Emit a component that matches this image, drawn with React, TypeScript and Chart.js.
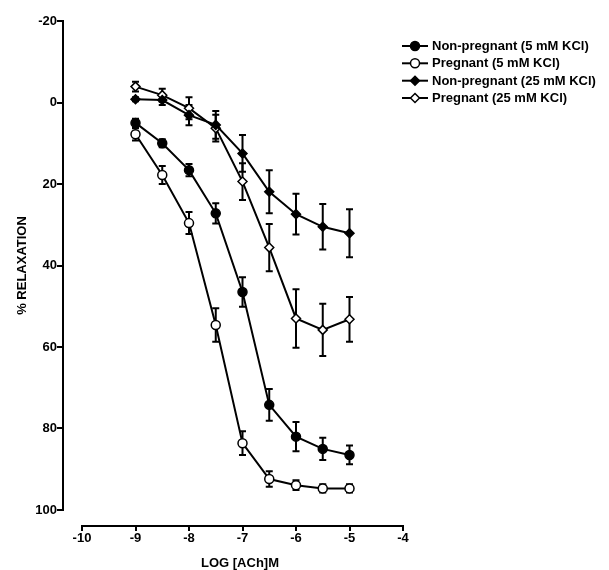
import React, { useEffect, useRef } from "react";
import { Chart, registerables } from "chart.js";

Chart.register(...registerables);

const logAch = [-9, -8.5, -8, -7.5, -7, -6.5, -6, -5.5, -5];
const npKcl5 = [5.0, 10.0, 16.6, 27.2, 46.5, 74.2, 82.0, 85.0, 86.5];
const npKcl5Err = [1.0, 1.0, 1.5, 2.5, 3.6, 3.9, 3.6, 2.7, 2.3];
const pKcl5 = [7.8, 17.8, 29.6, 54.6, 83.6, 92.4, 93.9, 94.7, 94.7];
const pKcl5Err = [1.5, 2.2, 2.7, 4.1, 2.9, 1.9, 1.2, 1.0, 1.0];
const npKcl25 = [-0.8, -0.6, 3.1, 5.5, 12.5, 21.9, 27.4, 30.5, 32.1];
const npKcl25Err = [0.5, 1.2, 2.5, 3.4, 4.5, 5.3, 5.0, 5.6, 5.9];
const pKcl25 = [-3.9, -1.8, 1.4, 6.3, 19.4, 35.6, 53.0, 55.8, 53.2];
const pKcl25Err = [1.2, 1.6, 2.7, 3.3, 4.5, 5.8, 7.2, 6.4, 5.5];

const seriesLabels = [
  "Non-pregnant (5 mM KCl)",
  "Pregnant (5 mM KCl)",
  "Non-pregnant (25 mM KCl)",
  "Pregnant (25 mM KCl)",
];
const xTicks = [-10, -9, -8, -7, -6, -5, -4];
const yTicks = [-20, 0, 20, 40, 60, 80, 100];
const xTitle = "LOG [ACh]M";
const yTitle = "% RELAXATION";

const FONT = "'Liberation Sans', Arial, Helvetica, sans-serif";

function drawMarker(ctx: CanvasRenderingContext2D, style: string, filled: boolean, x: number, y: number, r: number) {
  ctx.beginPath();
  if (style === "circle") {
    ctx.arc(x, y, r, 0, Math.PI * 2);
  } else {
    ctx.moveTo(x, y - r);
    ctx.lineTo(x + r, y);
    ctx.lineTo(x, y + r);
    ctx.lineTo(x - r, y);
    ctx.closePath();
  }
  ctx.fillStyle = filled ? "#000" : "#fff";
  ctx.fill();
  ctx.lineWidth = 1.5;
  ctx.strokeStyle = "#000";
  ctx.stroke();
}

const errorBarsPlugin = {
  id: "errorBars",
  beforeDatasetsDraw(chart: any) {
    const ctx = chart.ctx as CanvasRenderingContext2D;
    const xs = chart.scales.x;
    const ys = chart.scales.y;
    ctx.save();
    ctx.strokeStyle = "#000";
    ctx.lineWidth = 2;
    chart.data.datasets.forEach((ds: any) => {
      ds.data.forEach((p: any, i: number) => {
        const e = ds.errors[i];
        const x = xs.getPixelForValue(p.x);
        const y1 = ys.getPixelForValue(p.y - e);
        const y2 = ys.getPixelForValue(p.y + e);
        ctx.beginPath();
        ctx.moveTo(x, y1);
        ctx.lineTo(x, y2);
        ctx.moveTo(x - 3.5, y1);
        ctx.lineTo(x + 3.5, y1);
        ctx.moveTo(x - 3.5, y2);
        ctx.lineTo(x + 3.5, y2);
        ctx.stroke();
      });
    });
    ctx.restore();
  },
};

const axesPlugin = {
  id: "customAxes",
  afterDraw(chart: any) {
    const ctx = chart.ctx as CanvasRenderingContext2D;
    const xs = chart.scales.x;
    const ys = chart.scales.y;
    const ca = chart.chartArea;
    ctx.save();
    ctx.strokeStyle = "#000";
    ctx.lineWidth = 2;
    // y axis
    ctx.beginPath();
    ctx.moveTo(ca.left, ys.getPixelForValue(yTicks[0]) - 1);
    ctx.lineTo(ca.left, ys.getPixelForValue(yTicks[yTicks.length - 1]) + 1);
    ctx.stroke();
    // x axis
    ctx.beginPath();
    ctx.moveTo(xs.getPixelForValue(xTicks[0]) - 1, ca.bottom);
    ctx.lineTo(xs.getPixelForValue(xTicks[xTicks.length - 1]) + 1, ca.bottom);
    ctx.stroke();

    // titles
    ctx.fillStyle = "#000";
    ctx.font = `bold 13px ${FONT}`;
    ctx.textAlign = "center";
    ctx.textBaseline = "middle";
    ctx.fillText(xTitle, 240, 563);
    ctx.save();
    ctx.translate(22, (ys.getPixelForValue(yTicks[0]) + ys.getPixelForValue(yTicks[yTicks.length - 1])) / 2);
    ctx.rotate(-Math.PI / 2);
    ctx.fillText(yTitle, 0, 0);
    ctx.restore();

    // legend
    const rows = [46, 63.3, 80.7, 98];
    chart.data.datasets.forEach((ds: any, i: number) => {
      const y = rows[i];
      ctx.beginPath();
      ctx.lineWidth = 2;
      ctx.strokeStyle = "#000";
      ctx.moveTo(402, y);
      ctx.lineTo(428, y);
      ctx.stroke();
      drawMarker(ctx, ds.pointStyle, ds.pointBackgroundColor === "#000", 415, y, ds.pointStyle === "circle" ? 4.5 : 4.5);
      ctx.fillStyle = "#000";
      ctx.font = `bold 13px ${FONT}`;
      ctx.textAlign = "left";
      ctx.textBaseline = "middle";
      ctx.fillText(ds.label, 432, y + 0.5);
    });
    ctx.restore();
  },
};

function makeData(vals: number[]) {
  return logAch.map((x, i) => ({ x, y: vals[i] }));
}

export default function App() {
  const ref = useRef<HTMLCanvasElement | null>(null);

  useEffect(() => {
    if (!ref.current) return;
    const base = {
      borderColor: "#000",
      borderWidth: 2,
      pointBorderColor: "#000",
      pointBorderWidth: 1.5,
      tension: 0,
      clip: false as any,
    };
    const chart = new Chart(ref.current, {
      type: "line",
      data: {
        datasets: [
          { ...base, label: seriesLabels[0], data: makeData(npKcl5), errors: npKcl5Err, pointStyle: "circle", pointRadius: 4.5, pointBackgroundColor: "#000" } as any,
          { ...base, label: seriesLabels[1], data: makeData(pKcl5), errors: pKcl5Err, pointStyle: "circle", pointRadius: 4.5, pointBackgroundColor: "#fff" } as any,
          { ...base, label: seriesLabels[2], data: makeData(npKcl25), errors: npKcl25Err, pointStyle: "rectRot", pointRadius: 4.5, pointBackgroundColor: "#000" } as any,
          { ...base, label: seriesLabels[3], data: makeData(pKcl25), errors: pKcl25Err, pointStyle: "rectRot", pointRadius: 4.5, pointBackgroundColor: "#fff" } as any,
        ],
      },
      options: {
        animation: false,
        responsive: false,
        maintainAspectRatio: false,
        layout: { padding: { left: 0, top: 21, right: 206, bottom: 0 } },
        plugins: { legend: { display: false }, tooltip: { enabled: false }, title: { display: false } },
        scales: {
          x: {
            type: "linear",
            min: -10 - 19 / 53.5,
            max: -4,
            afterBuildTicks: (s: any) => {
              s.ticks = xTicks.map((v) => ({ value: v }));
            },
            afterFit: (s: any) => {
              s.height = 44;
            },
            grid: { display: true, drawOnChartArea: false, drawTicks: true, tickLength: 5, color: "#000", lineWidth: 2 },
            border: { display: false },
            ticks: { color: "#000", padding: 0, font: { family: FONT, size: 13, weight: "bold" }, maxRotation: 0, autoSkip: false },
          },
          y: {
            type: "linear",
            reverse: true,
            min: -20,
            max: 100 + 16 / 4.075,
            afterBuildTicks: (s: any) => {
              s.ticks = yTicks.map((v) => ({ value: v }));
            },
            afterFit: (s: any) => {
              s.width = 63;
            },
            grid: { display: true, drawOnChartArea: false, drawTicks: true, tickLength: 6, color: "#000", lineWidth: 2 },
            border: { display: false },
            ticks: { color: "#000", padding: 0, font: { family: FONT, size: 13, weight: "bold" }, autoSkip: false },
          },
        },
      } as any,
      plugins: [errorBarsPlugin, axesPlugin],
    });
    return () => chart.destroy();
  }, []);

  return (
    <div style={{ position: "absolute", left: 0, top: 0, width: 609, height: 570, background: "#fff" }}>
      <canvas ref={ref} width={609} height={570} style={{ display: "block" }} />
    </div>
  );
}
